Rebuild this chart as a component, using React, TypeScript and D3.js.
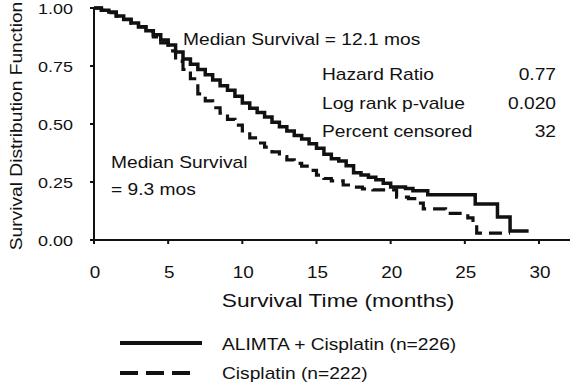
import * as d3 from 'd3';
import React from 'react';

// Kaplan-Meier estimates
const alimtaTimes = [0, 0.5, 1, 1.5, 2, 2.5, 3, 3.5, 4, 4.5, 5, 5.5, 6, 6.5, 7, 7.5, 8, 8.5, 9, 9.5, 10, 10.5, 11, 11.5, 12, 12.5, 13, 13.5, 14, 14.5, 15, 15.5, 16, 16.5, 17, 17.5, 18, 18.5, 19, 19.5, 20, 21, 21.5, 22.5, 25.7, 27.2, 28.05, 29.3];
const alimtaSurv = [1, 0.99, 0.983, 0.965, 0.952, 0.935, 0.918, 0.902, 0.885, 0.862, 0.84, 0.81, 0.78, 0.758, 0.735, 0.712, 0.69, 0.665, 0.645, 0.62, 0.59, 0.568, 0.55, 0.53, 0.508, 0.488, 0.47, 0.45, 0.435, 0.415, 0.395, 0.37, 0.35, 0.34, 0.32, 0.29, 0.28, 0.27, 0.26, 0.245, 0.228, 0.222, 0.212, 0.195, 0.155, 0.099, 0.039, 0.039];

const cisTimes = [0, 0.5, 1, 1.5, 2, 2.5, 3, 3.5, 4, 4.5, 5, 5.5, 6, 6.5, 7, 7.5, 8, 8.5, 9, 9.5, 10, 10.5, 11, 11.5, 12, 12.5, 13, 13.5, 14, 14.5, 15, 15.5, 16, 16.8, 17.5, 18.1, 18.8, 20.4, 21.2, 21.8, 22.2, 23.7, 25.2, 25.55, 25.8, 28.05];
const cisSurv = [1, 0.99, 0.98, 0.965, 0.95, 0.935, 0.92, 0.9, 0.875, 0.85, 0.815, 0.77, 0.735, 0.695, 0.63, 0.6, 0.57, 0.547, 0.52, 0.495, 0.47, 0.44, 0.418, 0.4, 0.38, 0.36, 0.345, 0.33, 0.318, 0.3, 0.28, 0.265, 0.255, 0.237, 0.228, 0.22, 0.216, 0.185, 0.178, 0.159, 0.134, 0.115, 0.095, 0.073, 0.03, 0.03];

const xTicks = [0, 5, 10, 15, 20, 25, 30];
const yTicks = [0, 0.25, 0.5, 0.75, 1];
const statLabels = ['Hazard Ratio', 'Log rank p-value', 'Percent censored'];
const statValues = ['0.77', '0.020', '32'];
const legendLabels = ['ALIMTA + Cisplatin (n=226)', 'Cisplatin (n=222)'];

const FONT = 'Arial, "Liberation Sans", Helvetica, sans-serif';

const T = ({ x, y, size = 16, sx = 1.2, anchor = 'start', rotate = 0, children }: any) => (
  <text
    transform={`translate(${x},${y}) rotate(${rotate}) scale(${sx},1)`}
    fontSize={size}
    fontFamily={FONT}
    textAnchor={anchor}
    fill="#111"
  >
    {children}
  </text>
);

export default function App() {
  const width = 573;
  const height = 385;

  const x = d3.scaleLinear().domain([0, 30]).range([94, 539]);
  const y = d3.scaleLinear().domain([0, 1]).range([240, 8]);

  const line = d3.line<[number, number]>()
    .x(d => x(d[0]))
    .y(d => y(d[1]))
    .curve(d3.curveStepAfter);

  const alimta = alimtaTimes.map((t, i) => [t, alimtaSurv[i]] as [number, number]);
  const cis = cisTimes.map((t, i) => [t, cisSurv[i]] as [number, number]);

  return (
    <svg width={width} height={height} style={{ position: 'absolute', left: 0, top: 0, background: '#fff' }}>
      <rect width={width} height={height} fill="#fff" />

      {/* axes */}
      <line x1={x(0)} x2={x(0)} y1={y(1)} y2={y(0)} stroke="#111" strokeWidth={2} />
      <line x1={x(0)} x2={570} y1={y(0)} y2={y(0)} stroke="#111" strokeWidth={2} />
      {yTicks.map(v => (
        <g key={'y' + v}>
          <line x1={x(0) - 4} x2={x(0)} y1={y(v)} y2={y(v)} stroke="#111" strokeWidth={2} />
          <T x={73} y={y(v) + 6} size={15.5} sx={1.16} anchor="end">{v.toFixed(2)}</T>
        </g>
      ))}
      {xTicks.map(v => (
        <g key={'x' + v}>
          <line x1={x(v)} x2={x(v)} y1={y(0)} y2={y(0) + 4} stroke="#111" strokeWidth={2} />
          <T x={x(v) + 1} y={278} size={16} sx={1.18} anchor="middle">{v}</T>
        </g>
      ))}
      <T x={338} y={307} size={17.5} sx={1.3} anchor="middle">Survival Time (months)</T>
      <T x={22} y={126} size={17} sx={1.13} anchor="middle" rotate={-90}>Survival Distribution Function</T>

      {/* curves */}
      <path d={line(cis) || ''} fill="none" stroke="#111" strokeWidth={3.2} strokeDasharray="13,7" />
      <path d={line(alimta) || ''} fill="none" stroke="#111" strokeWidth={3.5} />

      {/* annotations */}
      <T x={183} y={45}>Median Survival = 12.1 mos</T>
      {statLabels.map((s, i) => (
        <g key={s}>
          <T x={322} y={80 + i * 28.5}>{s}</T>
          <T x={556} y={80 + i * 28.5} anchor="end">{statValues[i]}</T>
        </g>
      ))}
      <T x={111} y={168}>Median Survival</T>
      <T x={111} y={195}>= 9.3 mos</T>

      {/* legend */}
      <line x1={120} x2={202} y1={343} y2={343} stroke="#111" strokeWidth={4} />
      <line x1={120} x2={193} y1={373} y2={373} stroke="#111" strokeWidth={4} strokeDasharray="18,8" />
      <T x={222} y={350}>{legendLabels[0]}</T>
      <T x={222} y={379}>{legendLabels[1]}</T>
    </svg>
  );
}
